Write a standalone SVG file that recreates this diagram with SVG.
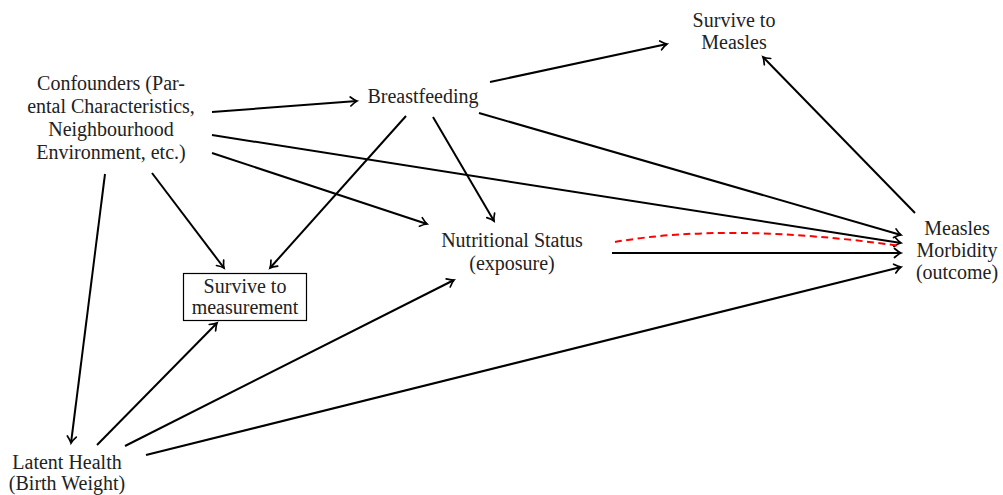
<svg xmlns="http://www.w3.org/2000/svg" width="1003" height="495" viewBox="0 0 1003 495">
<style>
text{font-family:"Liberation Serif","Times New Roman",serif;font-size:20px;fill:#222;text-anchor:middle}
.e{stroke:#000;stroke-width:2;fill:none;marker-end:url(#ah)}
.box{fill:#fff;stroke:#000;stroke-width:1.2}
.red{stroke:#ff0000;stroke-width:2;fill:none;stroke-dasharray:7 4.5}
</style>
<defs>
<marker id="ah" markerUnits="userSpaceOnUse" viewBox="-9 -6 11 12" markerWidth="11" markerHeight="12" refX="0" refY="0" orient="auto" overflow="visible">
<path d="M-6.5,-4.5 Q-2.5,-1 0,0 Q-2.5,1 -6.5,4.5" fill="none" stroke="#000" stroke-width="1.7" stroke-linecap="round"/>
</marker>
</defs>
<rect width="1003" height="495" fill="#fff"/>
<g id="connectors">
<line class="e" x1="212" y1="112" x2="357" y2="101"/>
<line class="e" x1="212" y1="135" x2="901" y2="243"/>
<line class="e" x1="212" y1="153" x2="427" y2="224"/>
<line class="e" x1="152" y1="173" x2="224" y2="268"/>
<line class="e" x1="105" y1="174" x2="71" y2="443"/>
<line class="e" x1="490" y1="82" x2="667" y2="44"/>
<line class="e" x1="406" y1="116" x2="270" y2="268"/>
<line class="e" x1="433" y1="117" x2="494" y2="221"/>
<line class="e" x1="479" y1="113" x2="901" y2="235"/>
<line class="e" x1="915" y1="213" x2="763" y2="57"/>
<line class="e" x1="612" y1="253" x2="901" y2="253"/>
<path class="red" d="M615,242 Q728,222 901,246"/>
<line class="e" x1="97" y1="445" x2="217" y2="323"/>
<line class="e" x1="125" y1="446" x2="454" y2="280"/>
<line class="e" x1="146" y1="455" x2="901" y2="267"/>
</g>
<g id="confounders">
<text x="111" y="90">Confounders (Par-</text>
<text x="111" y="113">ental Characteristics,</text>
<text x="111" y="136">Neighbourhood</text>
<text x="111" y="159">Environment, etc.)</text>
</g>
<g id="breastfeeding">
<text x="423" y="103">Breastfeeding</text>
</g>
<g id="survive-measles">
<text x="734" y="27">Survive to</text>
<text x="734" y="49">Measles</text>
</g>
<g id="nutritional">
<text x="512" y="247">Nutritional Status</text>
<text x="512" y="270">(exposure)</text>
</g>
<g id="measles-morbidity">
<text x="957" y="235">Measles</text>
<text x="957" y="257">Morbidity</text>
<text x="957" y="279">(outcome)</text>
</g>
<g id="survive-measurement">
<rect class="box" x="183.5" y="273.5" width="123" height="47"/>
<text x="245" y="293">Survive to</text>
<text x="245" y="314">measurement</text>
</g>
<g id="latent-health">
<text x="67" y="469">Latent Health</text>
<text x="67" y="490">(Birth Weight)</text>
</g>
</svg>
